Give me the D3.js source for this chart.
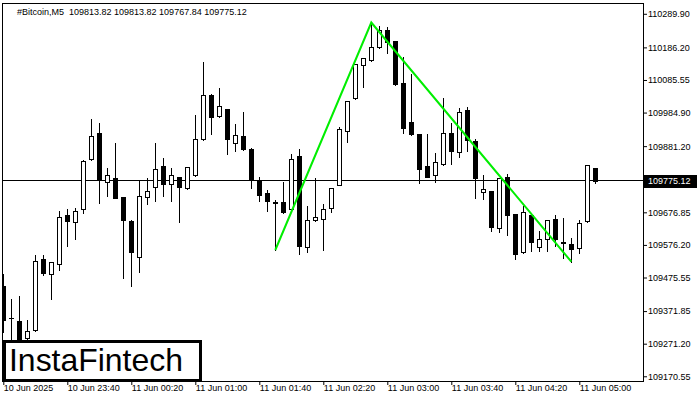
<!DOCTYPE html>
<html><head><meta charset="utf-8">
<script src="https://cdn.jsdelivr.net/npm/d3@7"></script>
<style>body{margin:0;background:#fff}svg{display:block}</style>
</head><body><svg id="c" width="700" height="400"></svg>
<script>
const symbolTitle = "#Bitcoin,M5";
const headerValues = [109813.82, 109813.82, 109767.84, 109775.12];
const startHour = 23, startMinute = 0, barMinutes = 5;
const open = [
109449.34,109351.45,109341.26,109287.83,109313.46,109531.79,109485.47,109516.35,109668.58,109647.89,
109686.19,109840.59,109920.87,109769.56,109781.91,109723.24,109650.06,109539.81,109723.24,109754.12,
109819.90,109763.39,109785.00,109751.03,109791.18,109902.35,110038.22,109973.37,109994.99,109889.99,
109912.54,109872.39,109774.50,109737.45,109707.80,109708.73,109686.19,109850.78,109568.84,109652.22,
109655.31,109689.27,109761.22,109927.05,110028.95,110130.86,110146.30,110186.44,110239.86,110205.90,
110076.20,109954.84,109918.71,109819.90,109793.03,109825.15,109920.87,109862.20,109992.82,109897.10,
109740.53,109742.70,109627.51,109785.00,109670.75,109553.40,109668.58,109568.84,109593.55,109656.23,
109585.21,109578.11,109565.75,109649.13,109813.82];
const high = [
109486.39,109409.19,109418.46,109344.34,109545.06,109545.06,109524.00,109680.94,109687.11,109690.20,
109838.42,109965.03,109952.68,109813.72,109890.92,109725.00,109653.14,109776.66,109782.84,109891.85,
109845.53,109814.65,109786.00,109815.88,109977.38,110141.05,110042.23,110060.76,109996.00,109949.59,
109986.65,109875.48,109785.00,109745.78,109714.90,109770.49,109856.95,109872.39,109696.38,109781.91,
109701.63,109752.00,109939.40,110021.00,110135.00,110154.00,110263.00,110252.22,110250.05,110207.00,
110157.41,110103.99,109920.00,109918.71,109859.11,110028.95,109951.75,109999.93,110001.16,109903.27,
109792.10,109744.00,109783.00,109795.19,109672.00,109697.30,109670.00,109620.10,109654.50,109668.58,
109660.25,109596.63,109653.14,109823.00,109813.82];
const low = [
109308.21,109267.14,109251.70,109273.32,109310.38,109483.30,109409.19,109498.74,109573.78,109595.40,
109675.69,109838.00,109706.57,109728.18,109720.00,109474.97,109450.26,109493.49,109702.55,109712.74,
109728.18,109712.74,109647.89,109750.00,109790.00,109901.00,109917.79,109972.00,109856.03,109867.14,
109870.23,109752.89,109712.74,109681.86,109560.50,109675.00,109685.00,109547.23,109553.40,109651.00,
109560.50,109676.92,109760.00,109893.08,110025.87,110062.92,110145.00,110185.00,110167.91,110071.00,
109920.87,109915.62,109768.33,109785.50,109771.41,109824.00,109825.15,109848.61,109867.14,109722.01,
109717.07,109620.10,109617.01,109606.82,109531.79,109552.00,109557.42,109558.34,109558.34,109572.86,
109534.87,109524.37,109550.31,109648.00,109767.84];
const close = [
109344.34,109350.52,109273.32,109310.38,109525.61,109488.55,109522.52,109661.48,109650.98,109680.01,
109834.41,109911.61,109776.66,109793.03,109722.01,109652.22,109555.25,109727.26,109741.77,109810.63,
109765.24,109791.18,109754.12,109815.88,109902.35,110038.22,109972.13,110004.25,109904.20,109914.70,
109873.32,109776.66,109730.34,109712.74,109707.18,109676.92,109840.59,109573.78,109652.22,109661.48,
109686.19,109751.03,109933.23,110019.69,110133.95,110152.47,110186.44,110239.86,110201.88,110072.19,
109938.17,109918.71,109811.56,109786.85,109831.32,109920.87,109867.14,109985.72,109900.18,109783.77,
109748.87,109632.45,109781.91,109669.51,109549.08,109676.92,109584.28,109594.47,109653.14,109594.47,
109583.05,109564.52,109642.95,109822.06,109775.12];
const xTickTimes = ["23:00","23:40","00:20","01:00","01:40","02:20","03:00","03:40","04:20","05:00"];
const xTickLabels = ["10 Jun 2025","10 Jun 23:40","11 Jun 00:20","11 Jun 01:00","11 Jun 01:40","11 Jun 02:20","11 Jun 03:00","11 Jun 03:40","11 Jun 04:20","11 Jun 05:00"];
const yTicks = [110289.90,110186.20,110085.55,109984.90,109881.20,109676.85,109576.20,109475.55,109371.85,109271.20,109170.55];
const lastPrice = 109775.12;
const patternTimes = ["01:50","02:50","04:55"];
const patternPrices = [109560.50,110263.00,109524.37];
const yView = [109155.98, 110323.24];
const logoText = "InstaFintech";

const pad = n => String(n).padStart(2, "0");
const times = open.map((_, i) => {
  const m = (startHour * 60 + startMinute + i * barMinutes) % 1440;
  return pad(Math.floor(m / 60)) + ":" + pad(m % 60);
});
const bars = times.map((t, i) => ({t, o: open[i], h: high[i], l: low[i], c: close[i]}));

const FONT = "'Liberation Sans', Arial, sans-serif";
const svg = d3.select("#c");
const L = 2.5, T = 3.5, R = 643.5, B = 381.5;
const x = d3.scalePoint().domain(times).range([3.3, 595.3]);
const y = d3.scaleLinear().domain(yView).range([381, 3]);

svg.append("defs").append("clipPath").attr("id", "plot")
  .append("rect").attr("x", L + 0.5).attr("y", T + 0.5).attr("width", R - L - 1).attr("height", B - T - 1);

const plot = svg.append("g").attr("clip-path", "url(#plot)");

// current price line
const py = Math.floor(y(lastPrice)) + 0.5;
plot.append("line").attr("x1", L).attr("x2", R).attr("y1", py).attr("y2", py)
  .attr("stroke", "#000").attr("stroke-width", 1);

// candles
const cg = plot.append("g");
bars.forEach(d => {
  const cx = Math.round(x(d.t));
  cg.append("line").attr("x1", cx + 0.5).attr("x2", cx + 0.5)
    .attr("y1", Math.round(y(d.h))).attr("y2", Math.round(y(d.l)) + 1)
    .attr("stroke", "#000").attr("stroke-width", 1);
  const top = Math.round(y(Math.max(d.o, d.c)));
  const bot = Math.round(y(Math.min(d.o, d.c)));
  if (bot - top < 1) {
    cg.append("line").attr("x1", cx - 2).attr("x2", cx + 3)
      .attr("y1", top + 0.5).attr("y2", top + 0.5).attr("stroke", "#000");
  } else {
    cg.append("rect").attr("x", cx - 1.5).attr("y", top + 0.5)
      .attr("width", 4).attr("height", bot - top)
      .attr("fill", d.c >= d.o ? "#fff" : "#000").attr("stroke", "#000").attr("stroke-width", 1);
  }
});

// pattern line
plot.append("path")
  .datum(patternTimes.map((t, i) => [x(t), y(patternPrices[i])]))
  .attr("d", d3.line()).attr("fill", "none").attr("stroke", "#00ee00").attr("stroke-width", 2);

// frame
svg.append("rect").attr("x", L).attr("y", T).attr("width", R - L).attr("height", B - T)
  .attr("fill", "none").attr("stroke", "#000").attr("stroke-width", 1);

// y axis
const ya = svg.append("g").attr("transform", "translate(643,0)")
  .call(d3.axisRight(y).tickValues(yTicks).tickSize(4).tickSizeOuter(0).tickFormat(d3.format(".2f")));
ya.select(".domain").remove();
ya.selectAll("text").attr("x", 5).attr("font-family", FONT).attr("font-size", 9).attr("fill", "#000");
ya.selectAll("line").attr("stroke", "#000");

// price box
svg.append("rect").attr("x", 644).attr("y", Math.round(y(lastPrice)) - 6).attr("width", 53).attr("height", 13).attr("fill", "#000");
svg.append("text").attr("x", 648).attr("y", y(lastPrice) + 3.3).text(lastPrice.toFixed(2))
  .attr("font-family", FONT).attr("font-size", 9).attr("fill", "#fff");

// x axis
const xa = svg.append("g").attr("transform", "translate(0,381)")
  .call(d3.axisBottom(x).tickValues(xTickTimes).tickSize(4).tickSizeOuter(0).tickFormat((d, i) => xTickLabels[i]));
xa.select(".domain").remove();
xa.selectAll("line").attr("stroke", "#000");
xa.selectAll("text").attr("text-anchor", "start").attr("x", 0).attr("y", 4)
  .attr("font-family", FONT).attr("font-size", 9).attr("fill", "#000");

// header
svg.append("text").attr("x", 17).attr("y", 15).style("white-space", "pre")
  .attr("font-family", FONT).attr("font-size", 9).attr("fill", "#000")
  .text(symbolTitle + "  " + headerValues.map(v => v.toFixed(2)).join(" "));

// logo box
svg.append("rect").attr("x", 4.5).attr("y", 341.5).attr("width", 196).attr("height", 39)
  .attr("fill", "#fff").attr("stroke", "#000").attr("stroke-width", 3);
svg.append("text").attr("x", 9).attr("y", 371).text(logoText)
  .attr("font-family", FONT).attr("font-size", 32).attr("fill", "#000")
  .attr("textLength", 174).attr("lengthAdjust", "spacingAndGlyphs");
</script></body></html>
